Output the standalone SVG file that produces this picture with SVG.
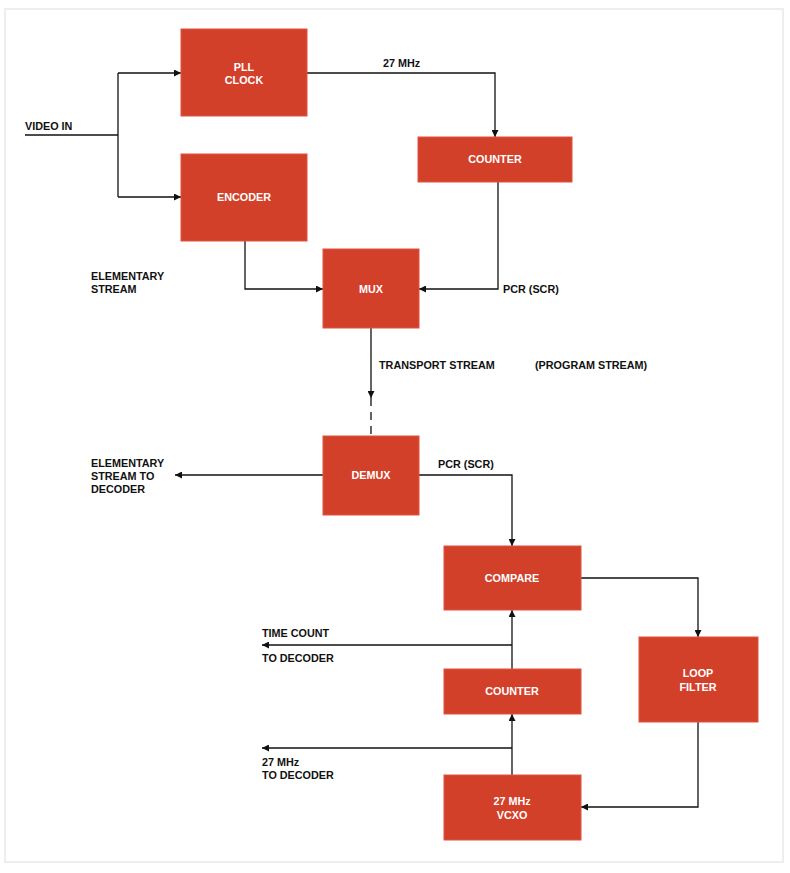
<svg xmlns="http://www.w3.org/2000/svg" width="790" height="873" viewBox="0 0 790 873">
<style>
.box{fill:#d3402a;stroke:#e0523c;stroke-width:1}
.bt{font-family:"Liberation Sans",Arial,sans-serif;font-weight:bold;font-size:10.8px;fill:#ffffff;text-anchor:middle}
.lt{font-family:"Liberation Sans",Arial,sans-serif;font-weight:bold;font-size:10.8px;fill:#111111}
.ln{fill:none;stroke:#111111;stroke-width:1.3}
</style>
<defs>
<marker id="ah" viewBox="0 0 10 10" refX="10" refY="5" markerWidth="9" markerHeight="7" markerUnits="userSpaceOnUse" orient="auto">
<path d="M0,0 L10,5 L0,10 z" fill="#111111"/>
</marker>
</defs>
<rect x="0" y="0" width="790" height="873" fill="#ffffff"/>
<rect x="5" y="9" width="778" height="853" fill="none" stroke="#eeeeee" stroke-width="2"/>

<g id="connectors">
<path class="ln" d="M25,135 H118"/>
<path class="ln" d="M118,73 V197"/>
<path class="ln" d="M118,73 H181" marker-end="url(#ah)"/>
<path class="ln" d="M118,197 H181" marker-end="url(#ah)"/>
<path class="ln" d="M307,73 H495 V137" marker-end="url(#ah)"/>
<path class="ln" d="M498,182 V289 H419" marker-end="url(#ah)"/>
<path class="ln" d="M245,241 V289 H323" marker-end="url(#ah)"/>
<path class="ln" d="M371,328 V398" marker-end="url(#ah)"/>
<path class="ln" d="M371,398 V436" stroke-dasharray="8,6"/>
<path class="ln" d="M323,475 H175" marker-end="url(#ah)"/>
<path class="ln" d="M419,475 H512 V546" marker-end="url(#ah)"/>
<path class="ln" d="M581,578 H698 V637" marker-end="url(#ah)"/>
<path class="ln" d="M698,722 V807 H581" marker-end="url(#ah)"/>
<path class="ln" d="M512,775 V714" marker-end="url(#ah)"/>
<path class="ln" d="M512,748 H262" marker-end="url(#ah)"/>
<path class="ln" d="M512,669 V610" marker-end="url(#ah)"/>
<path class="ln" d="M512,645 H262" marker-end="url(#ah)"/>
</g>

<g id="labels">
<text class="lt" x="25" y="130">VIDEO IN</text>
<text class="lt" x="383" y="67">27 MHz</text>
<text class="lt" x="91" y="280">ELEMENTARY</text>
<text class="lt" x="91" y="293">STREAM</text>
<text class="lt" x="503" y="293">PCR (SCR)</text>
<text class="lt" x="379" y="369">TRANSPORT STREAM</text>
<text class="lt" x="535" y="369">(PROGRAM STREAM)</text>
<text class="lt" x="91" y="467">ELEMENTARY</text>
<text class="lt" x="91" y="480">STREAM TO</text>
<text class="lt" x="91" y="493">DECODER</text>
<text class="lt" x="438" y="468">PCR (SCR)</text>
<text class="lt" x="262" y="637">TIME COUNT</text>
<text class="lt" x="262" y="662">TO DECODER</text>
<text class="lt" x="262" y="766">27 MHz</text>
<text class="lt" x="262" y="779">TO DECODER</text>
</g>

<g id="pll">
<rect class="box" x="181" y="29" width="126" height="87"/>
<text class="bt" x="244" y="71">PLL</text>
<text class="bt" x="244" y="84">CLOCK</text>
</g>
<g id="encoder">
<rect class="box" x="181" y="154" width="126" height="87"/>
<text class="bt" x="244" y="201">ENCODER</text>
</g>
<g id="counter1">
<rect class="box" x="418" y="137" width="154" height="45"/>
<text class="bt" x="495" y="163">COUNTER</text>
</g>
<g id="mux">
<rect class="box" x="323" y="249" width="96" height="79"/>
<text class="bt" x="371" y="293">MUX</text>
</g>
<g id="demux">
<rect class="box" x="323" y="436" width="96" height="79"/>
<text class="bt" x="371" y="479">DEMUX</text>
</g>
<g id="compare">
<rect class="box" x="444" y="546" width="137" height="64"/>
<text class="bt" x="512" y="582">COMPARE</text>
</g>
<g id="counter2">
<rect class="box" x="444" y="669" width="137" height="45"/>
<text class="bt" x="512" y="695">COUNTER</text>
</g>
<g id="loopfilter">
<rect class="box" x="639" y="637" width="119" height="85"/>
<text class="bt" x="698" y="677">LOOP</text>
<text class="bt" x="698" y="691">FILTER</text>
</g>
<g id="vcxo">
<rect class="box" x="444" y="775" width="137" height="65"/>
<text class="bt" x="512" y="805">27 MHz</text>
<text class="bt" x="512" y="819">VCXO</text>
</g>
</svg>
